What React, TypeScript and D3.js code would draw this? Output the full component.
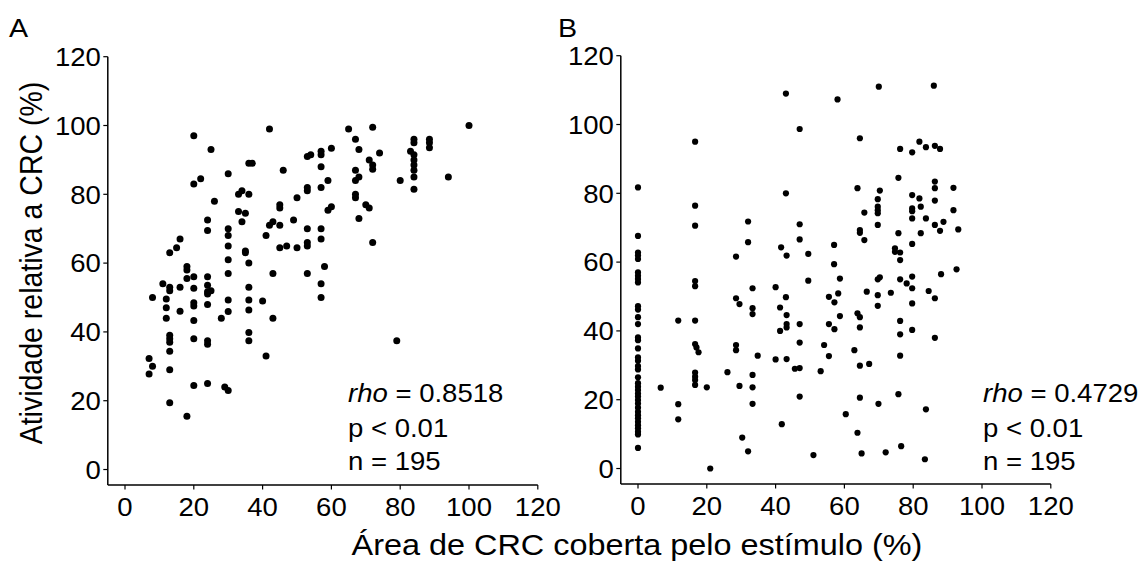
import React from "react";
import * as d3 from "d3";

// ---- Data ----
const tickValues = [0, 20, 40, 60, 80, 100, 120];

const panelAX = [
  20, 42, 25, 36, 37, 46, 53, 54, 57, 57, 60, 57, 30, 20, 22, 33, 34, 36, 26, 57,
  59, 53, 53, 50, 45, 45, 59, 60, 33, 35, 34, 24, 24, 30, 30, 43, 42, 45, 49, 41,
  53, 57, 57, 53, 53, 45, 47, 50, 30, 30, 35, 35, 36, 16, 15, 13, 18, 18, 30, 58,
  43, 53, 18, 20, 24, 11, 13, 13, 16, 20, 24, 24, 25, 24, 36, 8, 12, 20, 20, 24,
  30, 36, 40, 57, 57, 12, 16, 12, 20, 30, 36, 36, 36, 28, 43, 13, 13, 13, 13, 20,
  24, 24, 41, 7, 8, 7, 13, 20, 24, 29, 30, 13, 18, 65, 72, 100, 67, 68, 74, 71,
  72, 72, 67, 67, 68, 84, 84, 83, 84, 84, 84, 84, 84, 84, 88.5, 88.5, 88.5, 80, 94, 67,
  67, 70, 71, 68, 72, 79,
];
const panelAY = [
  97, 99, 93, 89, 89, 87, 91, 91.5, 92.5, 91.5, 93.4, 88, 86, 83, 84.5, 80, 81, 80, 78, 82,
  84, 82, 81, 79, 77, 76, 75.4, 76.4, 75, 74.5, 72, 72.5, 69.5, 70, 68, 72, 71, 71, 72.5, 68,
  70, 70, 67, 66, 65, 64.5, 65, 64.5, 65, 61, 63.5, 63, 60, 67, 64.5, 63, 59, 58, 57, 59,
  57, 57, 55.5, 56, 56, 54, 53, 52, 53, 52.7, 53.6, 51.7, 52, 51, 53, 50, 49.6, 48.5, 47.5, 48,
  49.3, 49.3, 49, 54, 50, 47, 46, 44, 43.3, 45.9, 46.4, 39.8, 37.4, 44, 44, 39, 38, 37, 34.4, 38,
  37.4, 36.4, 33, 32.3, 30, 27.8, 29, 24.4, 25, 24, 23, 19.4, 15.5, 99, 99.5, 100, 96, 93, 92, 90,
  88.5, 87.3, 87, 84, 85, 96, 95, 92.5, 91.5, 90, 88.5, 87, 85, 81.5, 96, 95, 93.5, 84, 85, 80,
  79, 77, 76, 73, 66, 37.4,
];

const panelBX = [
  0, 0, 0, 0, 0, 0, 0, 0, 0, 0, 0, 0, 0, 0, 0, 0, 0, 0, 0, 0,
  0, 0, 0, 0, 0, 0, 0, 0, 0, 0, 0, 0, 0, 0, 0, 0, 0, 0,
  16.6, 16.6, 16.6, 16.6, 16.6, 43, 47, 43, 32, 32, 47, 47, 49.5, 49.5, 28.5, 41.6, 43.2, 33.3, 40, 43,
  28.5, 29.5, 33.3, 41.3,
  6.6, 11.7, 11.7, 11.7, 16.6, 16.6, 17, 17.6, 16.6, 16.6, 16.6, 16.6, 20, 21, 26, 28.5, 28.5, 29.5, 30.3, 32,
  33.3, 34.8, 33.3, 33.3, 33.3, 40, 41.3, 43.2, 43.2, 43.2, 43.2, 41.8, 47, 47, 45.6, 47, 47,
  70, 86, 58, 64.5, 81.8, 83.7, 86.3, 87.8, 76.2, 79.7, 75.7, 63.8, 70.3, 69.7, 69.7, 69.7, 69.7, 65.8, 69.7, 86.3,
  86.3, 86.3, 91.7, 91.7, 79.7, 81.8, 79.7, 79.7, 82.2, 79.7, 83.7, 86.3, 88.8, 87.8, 93.1, 82.2, 64.5, 64.5, 65.8, 75.7,
  57, 57, 58.7, 55.5, 57.1, 58.2, 66.5, 69.7, 70.3, 69.7, 69.7, 73.5, 74.7, 74.7, 76.2, 76.2, 76.2, 78.1, 79.7, 79.7,
  79.7, 79.7, 84.5, 86.3, 88.1, 92.6,
  58.7, 55.5, 57.1, 54.1, 55.5, 53.1, 63.8, 64.5, 64.5, 62.9, 64.5, 67.2, 76.2, 76.2, 76.2, 79.7, 86.3, 75.7, 64.5, 69.9,
  60.4, 83.7, 63.8, 51, 65, 72, 76.5, 83.4,
];
const panelBY = [
  81.7, 67.6, 62.8, 61.9, 60.9, 57, 56, 55.1, 54.1, 47.2, 46.2, 44, 42, 38.1, 37.3, 34.9, 32.3, 31.3, 29.8, 28.8,
  26.5, 24.8, 23.8, 22.8, 21.8, 20.9, 19.9, 18.9, 17.7, 16.5, 15.5, 14.6, 13.6, 12.6, 11.7, 10.7, 9.9, 6,
  95, 76.4, 70.6, 54.5, 53, 109, 98.7, 80, 71.8, 65.8, 71, 66.6, 62.4, 54.6, 61.6, 64.3, 61.9, 52.4, 52.7, 49.8,
  49.5, 47.8, 46.6, 46.8,
  23.5, 43, 18.7, 14.3, 43, 36.2, 35.2, 33.8, 27.9, 26.7, 25.7, 24.3, 23.6, 0, 28, 35.9, 34.4, 24, 9, 5,
  44.9, 32.8, 27.2, 23.6, 18.8, 31.7, 40, 44.6, 42, 41, 31.8, 12.9, 42, 36.6, 29, 29.2, 20.9,
  111, 111.3, 107.3, 96, 95, 93.4, 93.8, 92.9, 92.9, 91.9, 84.5, 81.5, 80.8, 78.3, 76.1, 75.1, 74.2, 74.4, 70.8, 83.4,
  81.5, 77.9, 81.6, 75.1, 79.5, 78.5, 75.6, 74.8, 76.1, 72.7, 72.7, 70.8, 71.7, 69.1, 69.5, 68.4, 69.3, 68.5, 66.4, 68.4,
  65, 59.4, 55.2, 49.9, 48.3, 50.9, 51.4, 55, 55.6, 50.4, 47.3, 51.1, 64, 63, 62.8, 60.6, 55, 53.8, 55.8, 52.4,
  48, 65.3, 51.6, 49.5, 56.5, 57.9,
  44.3, 42, 40.5, 35.9, 32.7, 28.3, 45.1, 44, 41, 34.4, 29.9, 30.4, 42.9, 39, 32.8, 40.3, 38, 21.6, 20.6, 18.8,
  15.8, 17.2, 10.4, 3.9, 4.4, 4.7, 6.5, 2.7,
];

const panelLabels = ["A", "B"];
const rhoValues = ["0.8518", "0.4729"];
const pTexts = ["p < 0.01", "p < 0.01"];
const nTexts = ["n = 195", "n = 195"];
const yTitle = "Atividade relativa a CRC (%)";
const xTitle = "Área de CRC coberta pelo estímulo (%)";

const FONT = "'Liberation Sans', Arial, sans-serif";
const SX = 1.08;

type PanelProps = {
  xs: number[];
  ys: number[];
  xRange: [number, number];
  yRange: [number, number];
  r: number;
  label: string;
  labelX: number;
  annX: number;
  rho: string;
  pText: string;
  nText: string;
};

function Txt(props: {
  x: number;
  y: number;
  size: number;
  anchor?: "start" | "middle" | "end";
  rotate?: number;
  children: React.ReactNode;
}) {
  const { x, y, size, anchor = "start", rotate = 0, children } = props;
  return (
    <text
      transform={`translate(${x},${y}) scale(${SX},1)${rotate ? ` rotate(${rotate})` : ""}`}
      fontSize={size}
      fontFamily={FONT}
      textAnchor={anchor}
      fill="#000"
    >
      {children}
    </text>
  );
}

function Panel(p: PanelProps) {
  const x = d3.scaleLinear().domain([-5, 120]).range(p.xRange);
  const y = d3.scaleLinear().domain([-4.5, 120]).range(p.yRange);
  const x0 = x(-5);
  const y0 = y(-4.5);
  const tickLen = 4.5;
  const tickSize = 25.5;
  return (
    <g>
      {/* axes lines */}
      <line x1={x0} x2={x(120)} y1={y0} y2={y0} stroke="#000" strokeWidth={1.5} />
      <line x1={x0} x2={x0} y1={y0} y2={y(120)} stroke="#000" strokeWidth={1.5} />
      {tickValues.map((t) => (
        <g key={"xt" + t}>
          <line x1={x(t)} x2={x(t)} y1={y0} y2={y0 + tickLen} stroke="#000" strokeWidth={1.2} />
          <Txt x={x(t)} y={y0 + 30.5} size={tickSize} anchor="middle">
            {t}
          </Txt>
        </g>
      ))}
      {tickValues.map((t) => (
        <g key={"yt" + t}>
          <line x1={x0 - tickLen} x2={x0} y1={y(t)} y2={y(t)} stroke="#000" strokeWidth={1.2} />
          <Txt x={x0 - 7} y={y(t) + 9.2} size={tickSize} anchor="end">
            {t}
          </Txt>
        </g>
      ))}
      {p.xs.map((v, i) => (
        <circle key={i} cx={x(v)} cy={y(p.ys[i])} r={p.r} fill="#000" />
      ))}
      <Txt x={p.annX} y={402} size={tickSize}>
        <tspan fontStyle="italic">rho</tspan>
        <tspan>{" = " + p.rho}</tspan>
      </Txt>
      <Txt x={p.annX} y={436.5} size={tickSize}>
        {p.pText}
      </Txt>
      <Txt x={p.annX} y={470} size={tickSize}>
        {p.nText}
      </Txt>
      <Txt x={p.labelX} y={37} size={26.5}>
        {p.label}
      </Txt>
    </g>
  );
}

export default function App() {
  return (
    <div style={{ position: "absolute", left: 0, top: 0, width: 1146, height: 564, overflow: "hidden", background: "#fff" }}>
      <svg width={1146} height={564} style={{ display: "block" }}>
        <rect width={1146} height={564} fill="#fff" />
        <Panel
          xs={panelAX}
          ys={panelAY}
          xRange={[107.8, 537.8]}
          yRange={[485, 56.7]}
          r={3.5}
          label={panelLabels[0]}
          labelX={9}
          annX={348}
          rho={rhoValues[0]}
          pText={pTexts[0]}
          nText={nTexts[0]}
        />
        <Panel
          xs={panelBX}
          ys={panelBY}
          xRange={[620.8, 1050.8]}
          yRange={[484, 55.7]}
          r={3.1}
          label={panelLabels[1]}
          labelX={558}
          annX={983}
          rho={rhoValues[1]}
          pText={pTexts[1]}
          nText={nTexts[1]}
        />
        <Txt x={42} y={263} size={28.5} anchor="middle" rotate={-90}>
          {yTitle}
        </Txt>
        <Txt x={637} y={555} size={30} anchor="middle">
          {xTitle}
        </Txt>
      </svg>
    </div>
  );
}
